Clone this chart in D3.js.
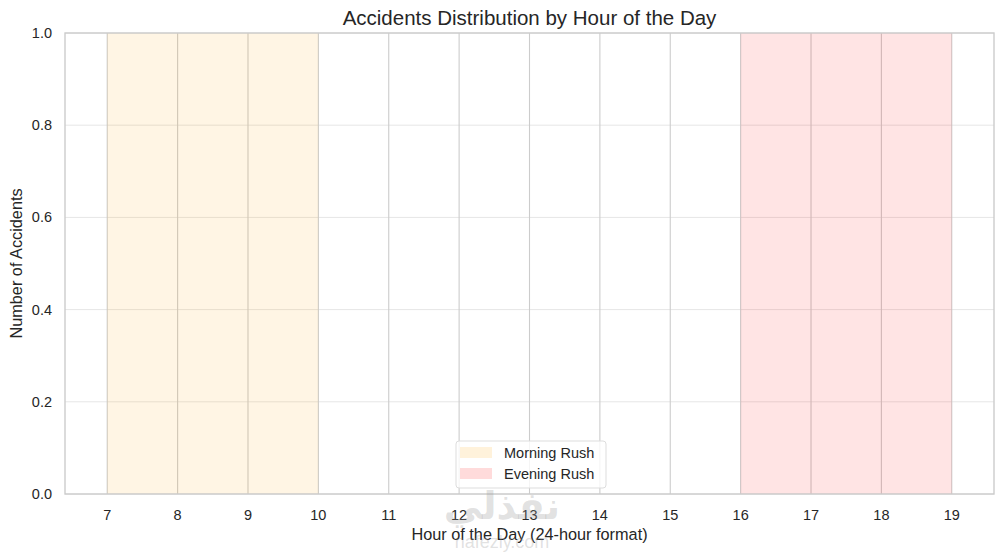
<!doctype html>
<html lang="en">
<head>
	<meta charset="UTF-8">
	<title>Accidents Distribution by Hour of the Day</title>
	<style>
		body { margin: 0; background: #fff; }
		svg { display: block; font-family: "Liberation Sans", Arial, sans-serif; }
		.tick-label { fill: #262626; font-size: 14.5px; }
		.axis-label { fill: #262626; font-size: 16.3px; }
	</style>
</head>
<body>
	<script src="https://cdn.jsdelivr.net/npm/d3@7/dist/d3.min.js"></script>
	<script>
		// data
		var hours = [7, 8, 9, 10, 11, 12, 13, 14, 15, 16, 17, 18, 19],
			yTicks = [0.0, 0.2, 0.4, 0.6, 0.8, 1.0],
			spanNames = ['Morning Rush', 'Evening Rush'],
			spanStart = [7, 16],
			spanEnd = [10, 19],
			spanColors = ['#ffa000', '#ff0000'];

		var w = 1005,
			h = 553,
			margin = {top: 33, right: 11, bottom: 59, left: 65};

		var svg = d3.select('body')
			.append('svg')
			.attr('width', w)
			.attr('height', h);

		var x = d3.scaleLinear()
			.domain([6.4, 19.6])
			.range([margin.left, w - margin.right]);

		var y = d3.scaleLinear()
			.domain([0, 1])
			.range([h - margin.bottom, margin.top]);

		// horizontal grid (faint)
		svg.append('g')
			.selectAll('line')
			.data(yTicks)
			.enter()
			.append('line')
			.attr('x1', x.range()[0])
			.attr('x2', x.range()[1])
			.attr('y1', function(d) { return y(d); })
			.attr('y2', function(d) { return y(d); })
			.attr('stroke', '#e6e6e6')
			.attr('stroke-width', 1);

		// vertical grid
		svg.append('g')
			.selectAll('line')
			.data(hours)
			.enter()
			.append('line')
			.attr('x1', function(d) { return x(d); })
			.attr('x2', function(d) { return x(d); })
			.attr('y1', y(0))
			.attr('y2', y(1))
			.attr('stroke', '#cccccc')
			.attr('stroke-width', 1.1);

		// rush hour spans
		svg.append('g')
			.selectAll('rect')
			.data(spanNames)
			.enter()
			.append('rect')
			.attr('x', function(d, i) { return x(spanStart[i]); })
			.attr('y', y(1))
			.attr('width', function(d, i) { return x(spanEnd[i]) - x(spanStart[i]); })
			.attr('height', y(0) - y(1))
			.attr('fill', function(d, i) { return spanColors[i]; })
			.attr('fill-opacity', 0.105);

		// spines
		svg.append('rect')
			.attr('x', x.range()[0])
			.attr('y', y(1))
			.attr('width', x.range()[1] - x.range()[0])
			.attr('height', y(0) - y(1))
			.attr('fill', 'none')
			.attr('stroke', '#cccccc')
			.attr('stroke-width', 1.4);

		// x tick labels
		svg.append('g')
			.selectAll('text')
			.data(hours)
			.enter()
			.append('text')
			.attr('class', 'tick-label')
			.attr('x', function(d) { return x(d); })
			.attr('y', 520)
			.attr('text-anchor', 'middle')
			.text(function(d) { return d; });

		// y tick labels
		svg.append('g')
			.selectAll('text')
			.data(yTicks)
			.enter()
			.append('text')
			.attr('class', 'tick-label')
			.attr('x', 52)
			.attr('y', function(d) { return y(d) + 5; })
			.attr('text-anchor', 'end')
			.text(function(d) { return d.toFixed(1); });

		// axis labels and title
		svg.append('text')
			.attr('class', 'axis-label')
			.attr('x', (x.range()[0] + x.range()[1]) / 2)
			.attr('y', 540)
			.attr('text-anchor', 'middle')
			.text('Hour of the Day (24-hour format)');

		svg.append('text')
			.attr('class', 'axis-label')
			.attr('transform', 'translate(22,' + (y(0) + y(1)) / 2 + ') rotate(-90)')
			.attr('text-anchor', 'middle')
			.text('Number of Accidents');

		svg.append('text')
			.attr('x', (x.range()[0] + x.range()[1]) / 2)
			.attr('y', 25)
			.attr('text-anchor', 'middle')
			.attr('fill', '#262626')
			.style('font-size', '20.5px')
			.text('Accidents Distribution by Hour of the Day');

		// legend
		var legend = svg.append('g')
			.attr('transform', 'translate(456,441)');

		legend.append('rect')
			.attr('width', 150)
			.attr('height', 47)
			.attr('rx', 3)
			.attr('fill', '#fff')
			.attr('fill-opacity', 0.8)
			.attr('stroke', '#dddddd');

		var item = legend.selectAll('g')
			.data(spanNames)
			.enter()
			.append('g')
			.attr('transform', function(d, i) { return 'translate(4,' + (6 + i * 21) + ')'; });

		item.append('rect')
			.attr('width', 32)
			.attr('height', 11)
			.attr('fill', function(d, i) { return spanColors[i]; })
			.attr('fill-opacity', 0.14);

		item.append('text')
			.attr('class', 'tick-label')
			.attr('x', 44)
			.attr('y', 10.5)
			.text(function(d) { return d; });

		// faint watermark over the bottom
		svg.append('text')
			.attr('x', 502)
			.attr('y', 519)
			.attr('text-anchor', 'middle')
			.attr('fill', '#9a9a9a')
			.attr('fill-opacity', 0.3)
			.style('font-family', '"DejaVu Sans", sans-serif')
			.style('font-weight', 'bold')
			.style('font-size', '38px')
			.text('نفذلي');

		svg.append('text')
			.attr('x', 502)
			.attr('y', 548)
			.attr('text-anchor', 'middle')
			.attr('fill', '#9a9a9a')
			.attr('fill-opacity', 0.3)
			.style('font-size', '18px')
			.text('nafezly.com');
	</script>
</body>
</html>
